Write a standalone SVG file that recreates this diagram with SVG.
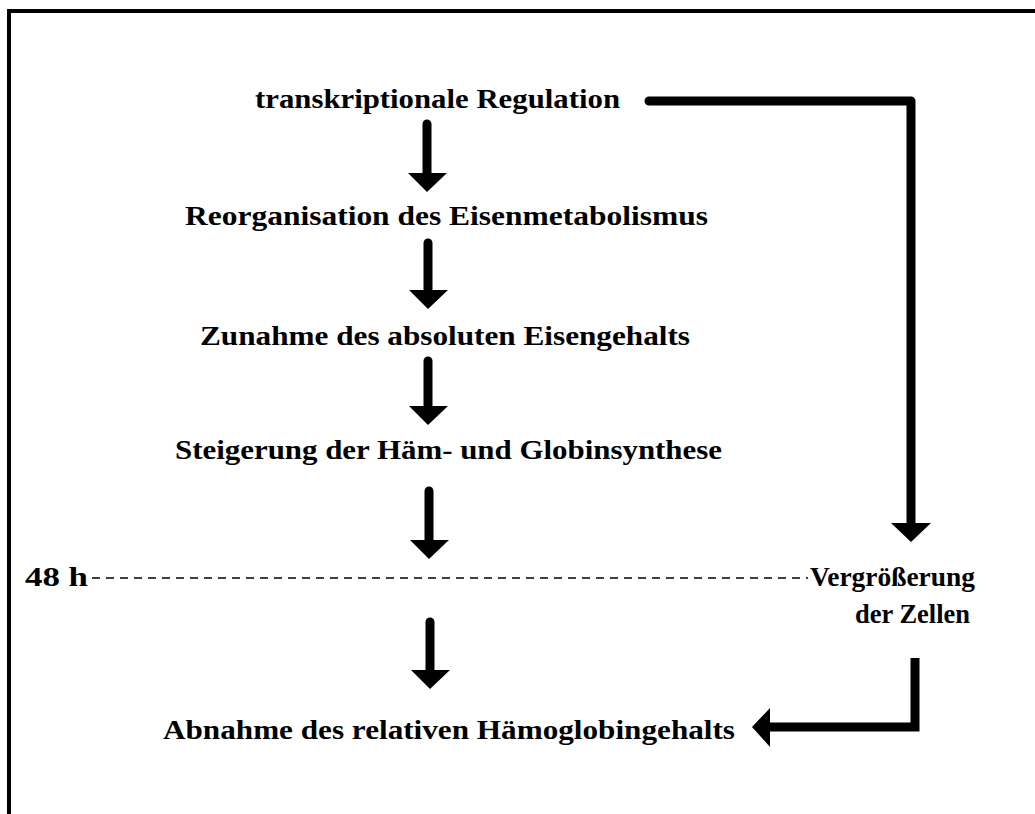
<svg xmlns="http://www.w3.org/2000/svg" width="1035" height="814" viewBox="0 0 1035 814">
<defs>
<style>
.t{font-family:"Liberation Serif","Times New Roman",serif;font-weight:bold;font-size:28px;fill:#000}
.ln{fill:none;stroke:#000;stroke-width:9}
.hd{fill:#000}
</style>
</defs>
<rect width="1035" height="814" fill="#fff"/>
<path d="M9,814 V11 H1035" fill="none" stroke="#000" stroke-width="4"/>
<g id="n1"><text class="t" x="255" y="108" textLength="365" lengthAdjust="spacingAndGlyphs">transkriptionale Regulation</text></g>
<g id="n2"><text class="t" x="185" y="225" textLength="523" lengthAdjust="spacingAndGlyphs">Reorganisation des Eisenmetabolismus</text></g>
<g id="n3"><text class="t" x="200" y="345" textLength="490" lengthAdjust="spacingAndGlyphs">Zunahme des absoluten Eisengehalts</text></g>
<g id="n4"><text class="t" x="175" y="459" textLength="547" lengthAdjust="spacingAndGlyphs">Steigerung der Häm- und Globinsynthese</text></g>
<g id="n5"><text class="t" x="25" y="586" textLength="63" lengthAdjust="spacingAndGlyphs">48 h</text></g>
<g id="n6"><text class="t" x="810" y="586" textLength="165" lengthAdjust="spacingAndGlyphs">Vergrößerung</text><text class="t" x="855" y="623" textLength="115" lengthAdjust="spacingAndGlyphs">der Zellen</text></g>
<g id="n7"><text class="t" x="163" y="739" textLength="572" lengthAdjust="spacingAndGlyphs">Abnahme des relativen Hämoglobingehalts</text></g>
<g id="connectors">
<line x1="92" y1="578" x2="808" y2="578" stroke="#000" stroke-width="1.5" stroke-dasharray="8,6"/>
<path class="ln" d="M427,124 V175" stroke-linecap="round"/><path class="hd" d="M408,173 H447 L427,192 Z"/>
<path class="ln" d="M428,243 V292" stroke-linecap="round"/><path class="hd" d="M409,290 H448 L428,309 Z"/>
<path class="ln" d="M428,361 V408" stroke-linecap="round"/><path class="hd" d="M409,406 H448 L428,425 Z"/>
<path class="ln" d="M429,491 V542" stroke-linecap="round"/><path class="hd" d="M410,540 H449 L429,559 Z"/>
<path class="ln" d="M430,622 V672" stroke-linecap="round"/><path class="hd" d="M411,670 H450 L430,689 Z"/>
<path class="ln" d="M649,101 H911 V526" stroke-linecap="round" stroke-linejoin="round"/><path class="hd" d="M891,523 H931 L911,542 Z"/>
<path class="ln" d="M915,658 V727 H768" stroke-linejoin="miter"/><path class="hd" d="M770,708 L752,727 L770,747 Z"/>
</g>
</svg>
